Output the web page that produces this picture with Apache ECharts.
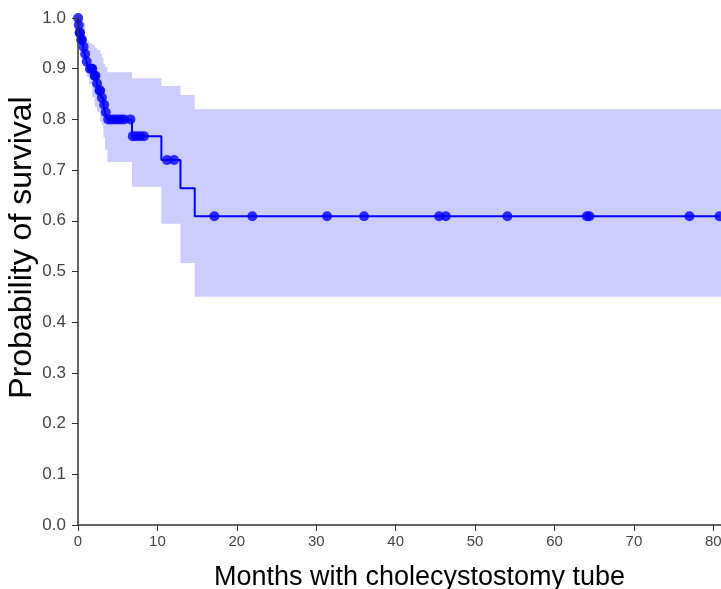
<!DOCTYPE html>
<html>
<head>
<meta charset="utf-8">
<script src="https://cdn.jsdelivr.net/npm/echarts@6/dist/echarts.min.js"></script>
<style>
html,body{margin:0;padding:0;background:#fff;}
#chart{width:721px;height:589px;}
</style>
</head>
<body>
<div id="chart"></div>
<script>
// Kaplan-Meier step curve: event times and survival after each event
var eventTimes = [0, 0.05, 0.15, 0.3, 0.6, 0.85, 1.05, 1.3, 2.0, 2.35, 2.6, 2.9, 3.2, 3.4, 3.6, 6.8, 10.5, 12.9, 14.7];
var eventSurv  = [1.0, 0.986, 0.971, 0.957, 0.943, 0.929, 0.914, 0.9, 0.886, 0.871, 0.857, 0.843, 0.829, 0.814, 0.80, 0.767, 0.72, 0.664, 0.609];
// Censored observations (marks)
var censorTimes = [0.02, 0.1, 0.2, 0.25, 0.4, 0.5, 0.7, 0.9, 1.1, 1.5, 1.7, 1.8, 2.1, 2.2, 2.4, 2.7, 2.8, 3.0, 3.3, 3.5,
                   3.8, 4.2, 4.6, 5.0, 5.4, 5.8, 6.6, 6.9, 7.3, 7.8, 8.3, 11.2, 12.1,
                   17.17, 21.95, 31.36, 36.02, 45.47, 46.31, 54.07, 64.07, 64.40, 76.99, 80.77];
// Confidence band (step changes)
var bandTimes = [0, 0.2, 0.5, 0.9, 1.1, 1.4, 1.8, 2.1, 2.4, 2.8, 3.0, 3.2, 3.4, 3.7, 6.8, 10.5, 12.9, 14.7, 86];
var bandUpper = [1.0, 1.0, 0.99, 0.96, 0.955, 0.95, 0.947, 0.942, 0.937, 0.93, 0.921, 0.91, 0.903, 0.893, 0.881, 0.866, 0.848, 0.820, 0.820];
var bandLower = [1.0, 0.95, 0.93, 0.91, 0.884, 0.87, 0.844, 0.824, 0.815, 0.795, 0.79, 0.765, 0.74, 0.716, 0.667, 0.594, 0.517, 0.450, 0.450];
var xTicks = [0, 10, 20, 30, 40, 50, 60, 70, 80];
var yTicks = [0, 0.1, 0.2, 0.3, 0.4, 0.5, 0.6, 0.7, 0.8, 0.9, 1.0];

function survAt(t) {
  var s = eventSurv[0];
  for (var i = 0; i < eventTimes.length; i++) { if (eventTimes[i] <= t) s = eventSurv[i]; }
  return s;
}
var lastT = censorTimes[censorTimes.length - 1];
var curveData = eventTimes.map(function (t, i) { return [t, eventSurv[i]]; });
curveData.push([lastT, survAt(lastT)]);
var censorData = censorTimes.map(function (t) { return [t, survAt(t)]; });

var chart = echarts.init(document.getElementById('chart'));
chart.setOption({
  animation: false,
  backgroundColor: '#ffffff',
  grid: { left: 78, top: 18, right: -40, bottom: 64, containLabel: false, outerBoundsMode: 'none' },
  xAxis: {
    type: 'value', min: 0, max: 86, interval: 10,
    name: 'Months with cholecystostomy tube', nameLocation: 'middle', nameGap: 39, nameMoveOverlap: false,
    nameTextStyle: { fontFamily: 'Liberation Sans, Arial', fontSize: 27, color: '#000' },
    axisLine: { lineStyle: { color: '#333', width: 1.5 } },
    axisTick: { length: 6, lineStyle: { color: '#333' } },
    axisLabel: { fontFamily: 'Liberation Sans, Arial', fontSize: 15, color: '#444', margin: 9,
      formatter: function (v) { return xTicks.indexOf(v) >= 0 ? String(v) : ''; } },
    splitLine: { show: false }, z: 10
  },
  yAxis: {
    type: 'value', min: 0, max: 1, interval: 0.1,
    name: 'Probability of survival', nameLocation: 'middle', nameGap: 40, nameMoveOverlap: false,
    nameTextStyle: { fontFamily: 'Liberation Sans, Arial', fontSize: 32, color: '#000', padding: [0, 0, 0, 48] },
    axisLine: { show: true, lineStyle: { color: '#333', width: 1.5 } },
    axisTick: { show: true, length: 6, lineStyle: { color: '#333' } },
    axisLabel: { fontFamily: 'Liberation Sans, Arial', fontSize: 17, color: '#444', margin: 12,
      formatter: function (v) { return v.toFixed(1); } },
    splitLine: { show: false }, z: 10
  },
  series: [
    {
      type: 'custom', coordinateSystem: 'cartesian2d', clip: true, z: 1, silent: true,
      data: [[0, 0]],
      renderItem: function (params, api) {
        var pts = [], n = bandTimes.length, i;
        for (i = 0; i < n; i++) {
          pts.push(api.coord([bandTimes[i], bandUpper[i]]));
          if (i < n - 1) pts.push(api.coord([bandTimes[i + 1], bandUpper[i]]));
        }
        for (i = n - 1; i >= 0; i--) {
          if (i < n - 1) pts.push(api.coord([bandTimes[i + 1], bandLower[i]]));
          pts.push(api.coord([bandTimes[i], bandLower[i]]));
        }
        return { type: 'polygon', shape: { points: pts }, style: { fill: '#ccccff' } };
      }
    },
    {
      type: 'line', step: 'end', data: curveData, showSymbol: false, symbol: 'none',
      lineStyle: { color: '#0000ff', width: 2 }, z: 3
    },
    {
      type: 'scatter', data: censorData, symbol: 'circle', symbolSize: 10,
      itemStyle: { color: '#0000ff' }, z: 4
    }
  ]
});
</script>
</body>
</html>
